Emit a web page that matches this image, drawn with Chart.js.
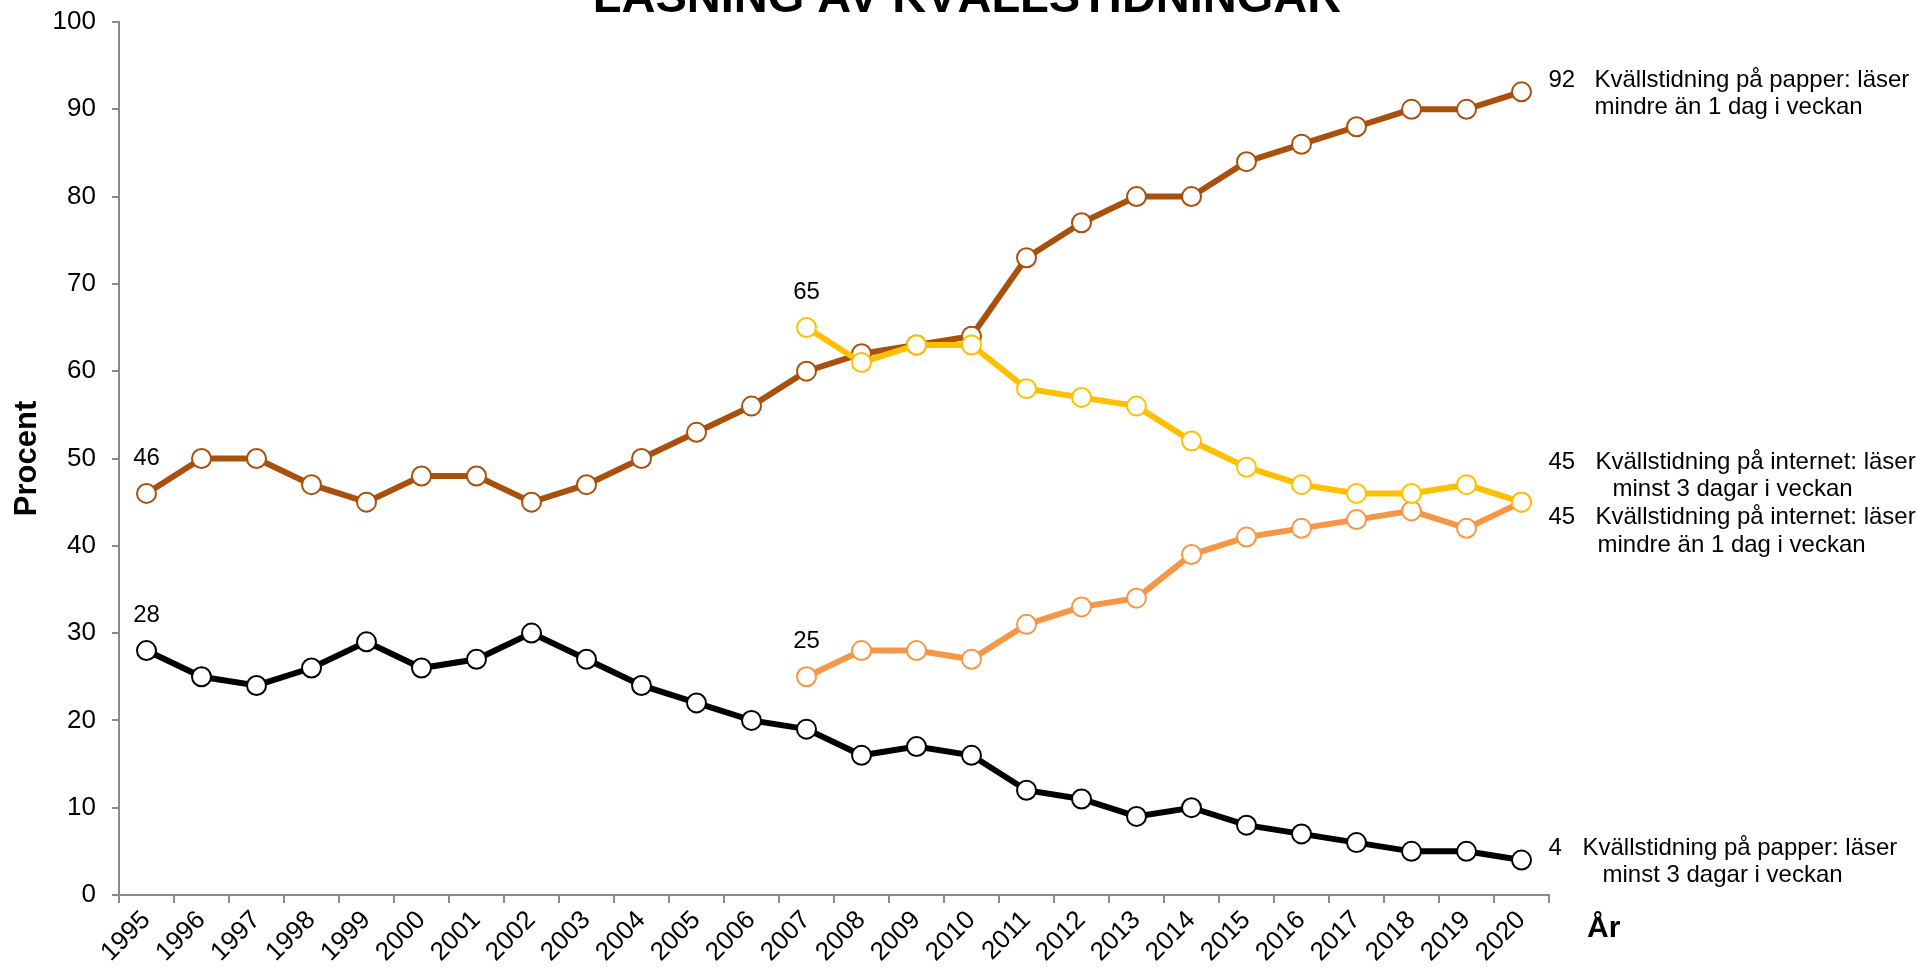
<!DOCTYPE html>
<html><head><meta charset="utf-8">
<script src="https://cdn.jsdelivr.net/npm/chart.js@4/dist/chart.umd.min.js"></script>
<style>html,body{margin:0;padding:0;background:#fff;overflow:hidden}
#wrap{width:1917px;height:968px;position:relative}</style></head>
<body><div id="wrap"><canvas id="c" width="1917" height="968" style="width:1917px;height:968px"></canvas></div>
<script>
// ---- data ----
const years = ['1995','1996','1997','1998','1999','2000','2001','2002','2003','2004','2005','2006','2007','2008','2009','2010','2011','2012','2013','2014','2015','2016','2017','2018','2019','2020'];
const paperMinst3 = [28,25,24,26,29,26,27,30,27,24,22,20,19,16,17,16,12,11,9,10,8,7,6,5,5,4];
const paperMindre1 = [46,50,50,47,45,48,48,45,47,50,53,56,60,62,63,64,73,77,80,80,84,86,88,90,90,92];
const internetMinst3 = [null,null,null,null,null,null,null,null,null,null,null,null,65,61,63,63,58,57,56,52,49,47,46,46,47,45];
const internetMindre1 = [null,null,null,null,null,null,null,null,null,null,null,null,25,28,28,27,31,33,34,39,41,42,43,44,42,45];
const nameInternetMinst3 = ['Kvällstidning på internet: läser','minst 3 dagar i veckan'];
const nameInternetMindre1 = ['Kvällstidning på internet: läser','mindre än 1 dag i veckan'];
const namePaperMindre1 = ['Kvällstidning på papper: läser','mindre än 1 dag i veckan'];
const namePaperMinst3 = ['Kvällstidning på papper: läser','minst 3 dagar i veckan'];
const titleText = 'LÄSNING AV KVÄLLSTIDNINGAR';
const yTitle = 'Procent';
const xTitle = 'År';

// ---- styles / layout ----
const FONT = '"Liberation Sans", Arial, sans-serif';
const AXIS = '#8a8a8a';
// end-label layout: offsets relative to the last point of each series
const endLayout = [
  {dy1:-40, dy2:-13, x1:74, x2:91},   // internet minst 3
  {dy1:15, dy2:43, x1:74, x2:76},     // internet mindre 1
  {dy1:-11, dy2:16, x1:73, x2:73},    // papper mindre 1
  {dy1:-12, dy2:15, x1:61, x2:81}     // papper minst 3
];

function ds(data, color){
  return {data, borderColor:color, backgroundColor:'#fff', borderWidth:6,
    pointRadius:9.5, pointHoverRadius:9.5, pointBorderWidth:2, pointBorderColor:color,
    pointBackgroundColor:'#fff', tension:0, spanGaps:false};
}

const labelPlugin = {
  id:'labels',
  afterDraw(chart){
    const ctx = chart.ctx, xs = chart.scales.x, ys = chart.scales.y;
    ctx.save();
    ctx.fillStyle = '#000';
    ctx.font = 'bold 47px ' + FONT;
    ctx.textAlign = 'center'; ctx.textBaseline = 'alphabetic';
    ctx.fillText(titleText, 967, 12);
    ctx.save();
    ctx.translate(27, (ys.top + ys.bottom)/2);
    ctx.rotate(-Math.PI/2);
    ctx.font = 'bold 31px ' + FONT;
    ctx.textBaseline = 'middle';
    ctx.fillText(yTitle, 0, 0);
    ctx.restore();
    ctx.font = 'bold 30px ' + FONT;
    ctx.textAlign = 'left'; ctx.textBaseline = 'middle';
    ctx.fillText(xTitle, xs.right + 38, 929);
    ctx.font = '24px ' + FONT;
    ctx.textAlign = 'center';
    chart.data.datasets.forEach((d) => {
      const i = d.data.findIndex(v => v !== null);
      ctx.fillText(String(d.data[i]), xs.getPixelForValue(i), ys.getPixelForValue(d.data[i]) - 35);
    });
    chart.data.datasets.forEach((d, k) => {
      const i = d.data.length - 1;
      const px = xs.getPixelForValue(i), py = ys.getPixelForValue(d.data[i]);
      const L = endLayout[k];
      ctx.textAlign = 'left';
      ctx.fillText(String(d.data[i]), px + 27, py + L.dy1);
      ctx.fillText(d.names[0], px + L.x1, py + L.dy1);
      ctx.fillText(d.names[1], px + L.x2, py + L.dy2);
    });
    ctx.restore();
  }
};

const datasets = [
  Object.assign(ds(internetMinst3, '#FFC000'), {names:nameInternetMinst3}),
  Object.assign(ds(internetMindre1, '#F79646'), {names:nameInternetMindre1}),
  Object.assign(ds(paperMindre1, '#A9500D'), {names:namePaperMindre1}),
  Object.assign(ds(paperMinst3, '#000000'), {names:namePaperMinst3})
];

new Chart(document.getElementById('c'), {
  type:'line',
  data:{labels:years, datasets},
  options:{
    responsive:false, animation:false, devicePixelRatio:1,
    layout:{padding:{left:0, right:368, top:22, bottom:0}},
    plugins:{legend:{display:false}, tooltip:{enabled:false}, title:{display:false}},
    scales:{
      x:{
        type:'category', offset:true,
        grid:{display:true, offset:true, drawOnChartArea:false, drawTicks:true, tickLength:8, color:AXIS, lineWidth:2},
        border:{display:true, color:AXIS, width:2},
        ticks:{autoSkip:false, maxRotation:45, minRotation:45, color:'#000', font:{family:FONT, size:26}, padding:2},
        afterFit(s){ s.height = 73; s.paddingLeft = 0; s.paddingRight = 0; }
      },
      y:{
        min:0, max:100,
        grid:{display:true, drawOnChartArea:false, drawTicks:true, tickLength:7, color:AXIS, lineWidth:2},
        border:{display:true, color:AXIS, width:2},
        ticks:{stepSize:10, color:'#000', font:{family:FONT, size:26}, padding:16},
        afterFit(s){ s.width = 119; s.paddingTop = 0; s.paddingBottom = 0; }
      }
    }
  },
  plugins:[labelPlugin]
});
</script></body></html>
